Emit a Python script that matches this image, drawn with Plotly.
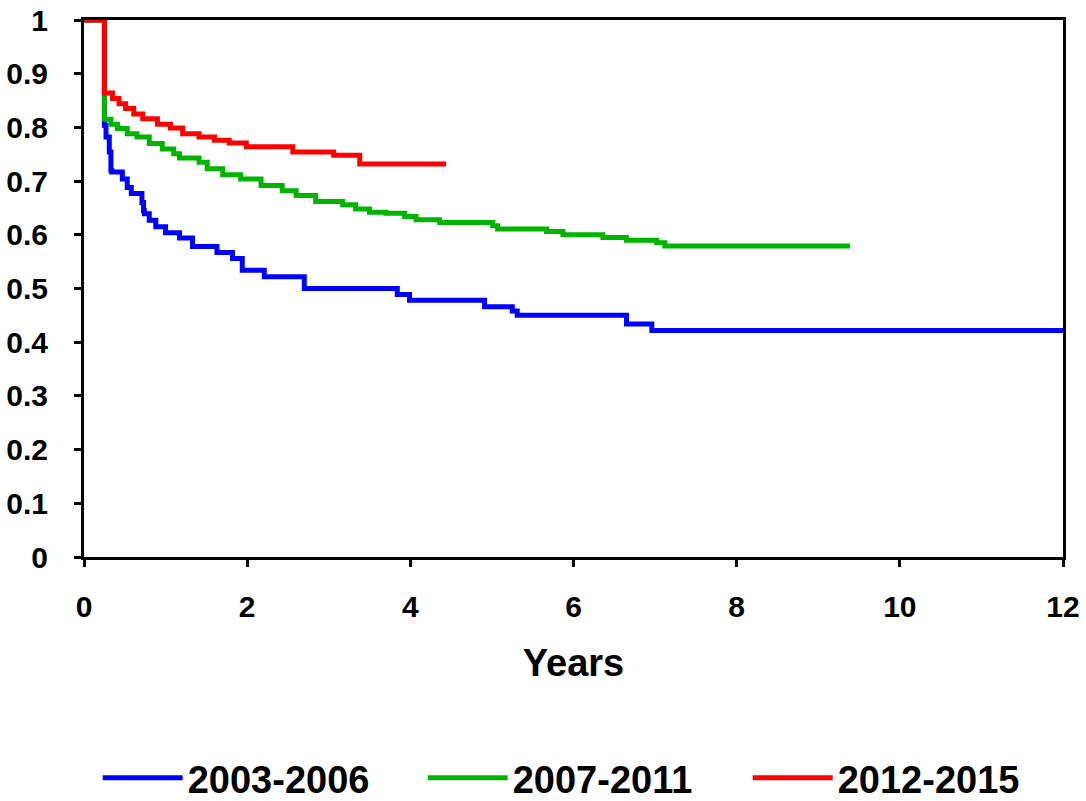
import plotly.graph_objects as go

# Kaplan-Meier style step curves (time in years, survival proportion)
t_2003 = [0, 0.25, 0.27, 0.31, 0.33, 0.34, 0.47, 0.53, 0.58, 0.71, 0.73, 0.74, 0.80, 0.88,
          1.00, 1.17, 1.33, 1.63, 1.82, 1.94, 2.21, 2.70, 3.84, 3.99, 4.91, 5.25, 5.31,
          6.65, 6.96, 12.0]
s_2003 = [1.0, 0.804, 0.782, 0.754, 0.720, 0.717, 0.704, 0.688, 0.677, 0.660, 0.645, 0.639,
          0.627, 0.615, 0.604, 0.594, 0.578, 0.567, 0.556, 0.534, 0.522, 0.500, 0.489, 0.478,
          0.466, 0.458, 0.450, 0.434, 0.422, 0.422]

t_2007 = [0, 0.25, 0.33, 0.41, 0.53, 0.65, 0.80, 0.96, 1.10, 1.17, 1.41, 1.51, 1.70, 1.92,
          2.17, 2.43, 2.60, 2.84, 3.17, 3.33, 3.50, 3.70, 3.93, 4.07, 4.36, 5.01, 5.07, 5.67,
          5.87, 6.36, 6.65, 7.02, 7.12, 9.39]
s_2007 = [1.0, 0.815, 0.806, 0.798, 0.788, 0.782, 0.770, 0.760, 0.751, 0.743, 0.735, 0.723,
          0.712, 0.704, 0.692, 0.682, 0.673, 0.662, 0.656, 0.648, 0.642, 0.640, 0.634, 0.628,
          0.623, 0.617, 0.611, 0.606, 0.600, 0.595, 0.590, 0.585, 0.579, 0.579]

t_2012 = [0, 0.25, 0.35, 0.43, 0.51, 0.61, 0.72, 0.90, 1.06, 1.21, 1.41, 1.60, 1.78, 1.99,
          2.56, 3.06, 3.38, 4.44]
s_2012 = [1.0, 0.864, 0.854, 0.844, 0.835, 0.825, 0.816, 0.806, 0.799, 0.788, 0.782, 0.776,
          0.771, 0.764, 0.754, 0.748, 0.732, 0.732]

names = ["2003-2006", "2007-2011", "2012-2015"]
colors = ["#0000FF", "#00B400", "#FF0000"]

x_ticks = [0, 2, 4, 6, 8, 10, 12]
y_ticks = [0, 0.1, 0.2, 0.3, 0.4, 0.5, 0.6, 0.7, 0.8, 0.9, 1]
y_ticklabels = ["0", "0.1", "0.2", "0.3", "0.4", "0.5", "0.6", "0.7", "0.8", "0.9", "1"]

FONT = "Liberation Sans, Arial, sans-serif"

fig = go.Figure()
for t, s, n, c in zip([t_2003, t_2007, t_2012], [s_2003, s_2007, s_2012], names, colors):
    fig.add_trace(go.Scatter(x=t, y=s, mode="lines", name=n,
                             line=dict(color=c, width=5, shape="hv")))

axis_common = dict(showgrid=False, zeroline=False, showline=True, linecolor="black",
                   linewidth=3, mirror=True, ticks="outside", ticklen=7, tickwidth=3,
                   tickcolor="black", automargin=False,
                   tickfont=dict(family=FONT, size=30, color="black", weight="bold"))

fig.update_layout(
    width=1086, height=801,
    margin=dict(l=84, r=23, t=20, b=244, autoexpand=False),
    paper_bgcolor="white", plot_bgcolor="white",
    showlegend=True,
    legend=dict(orientation="h", x=0.014, xanchor="left", y=-0.4115, yanchor="middle",
                font=dict(family=FONT, size=38, color="black", weight="bold"),
                entrywidth=230, entrywidthmode="pixels", itemwidth=80),
    xaxis=dict(range=[0, 12], tickvals=x_ticks, ticklabelstandoff=14,
               title=dict(text="Years", standoff=28,
                          font=dict(family=FONT, size=38, color="black", weight="bold")),
               **axis_common),
    yaxis=dict(range=[0, 1], tickvals=y_ticks, ticktext=y_ticklabels,
               ticklabelstandoff=20, **axis_common),
    xaxis2=dict(range=[0, 12], overlaying="x", anchor="y", side="bottom", tickvals=x_ticks,
                ticks="inside", ticklen=7, tickwidth=3, tickcolor="black",
                showticklabels=False, showline=False, showgrid=False, zeroline=False),
    yaxis2=dict(range=[0, 1], overlaying="y", anchor="x", side="left", tickvals=y_ticks,
                ticks="inside", ticklen=7, tickwidth=3, tickcolor="black",
                showticklabels=False, showline=False, showgrid=False, zeroline=False),
)

fig.write_html("out.html")
